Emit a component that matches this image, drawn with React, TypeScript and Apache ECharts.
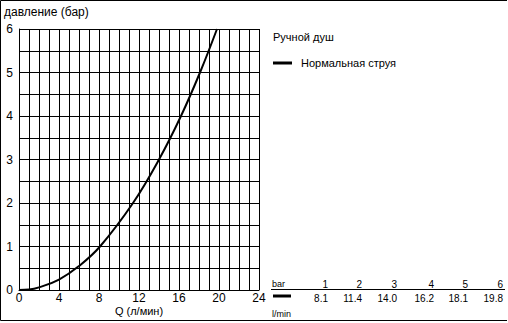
import React, { useEffect, useRef } from "react";
import * as echarts from "echarts";

// Curve: flow Q (l/min) vs pressure (bar)
const curveFlow = [0, 1, 2, 4, 6, 8.1, 11.4, 14.0, 16.2, 18.1, 19.8];
const curvePressure = [0, 0.01, 0.06, 0.24, 0.55, 1, 2, 3, 4, 5, 6];

// Table below legend
const tablePressure = ["1", "2", "3", "4", "5", "6"];
const tableFlow = ["8.1", "11.4", "14.0", "16.2", "18.1", "19.8"];

const xTickLabels = [0, 4, 8, 12, 16, 20, 24];
const yTickLabels = [0, 1, 2, 3, 4, 5, 6];

const title = "давление (бар)";
const xName = "Q (л/мин)";
const legendTitle = "Ручной душ";
const seriesName = "Нормальная струя";

const FONT = "'Liberation Sans', Arial, sans-serif";

export default function App() {
  const ref = useRef<HTMLDivElement>(null);
  useEffect(() => {
    document.body.style.margin = "0";
    const chart = echarts.init(ref.current!, null, { renderer: "svg" });
    const colX = [328, 362, 397, 434, 468, 503];
    const tableGraphics: any[] = [];
    tablePressure.forEach((t, i) => {
      tableGraphics.push({
        type: "text",
        x: colX[i],
        y: 284,
        style: { text: t, font: `10px ${FONT}`, fill: "#000", align: "right", verticalAlign: "middle" },
      });
    });
    tableFlow.forEach((t, i) => {
      tableGraphics.push({
        type: "text",
        x: colX[i],
        y: 298,
        style: { text: t, font: `10px ${FONT}`, fill: "#000", align: "right", verticalAlign: "middle" },
      });
    });
    chart.setOption({
      animation: false,
      backgroundColor: "#fff",
      grid: { left: 19, top: 29, width: 240, height: 261, containLabel: false },
      xAxis: {
        type: "value",
        min: 0,
        max: 24,
        interval: 1,
        axisLine: { show: true, lineStyle: { color: "#000", width: 1 } },
        axisTick: { show: false },
        splitLine: { show: true, lineStyle: { color: "#000", width: 1 } },
        axisLabel: {
          color: "#000",
          fontFamily: FONT,
          fontSize: 12,
          margin: 2,
          showMaxLabel: true,
          formatter: (v: number) => (xTickLabels.includes(v) ? String(v) : ""),
        },
      },
      yAxis: {
        type: "value",
        min: 0,
        max: 6,
        interval: 0.5,
        axisLine: { show: true, lineStyle: { color: "#000", width: 1 } },
        axisTick: { show: false },
        splitLine: { show: true, lineStyle: { color: "#000", width: 1 } },
        axisLabel: {
          color: "#000",
          fontFamily: FONT,
          fontSize: 12,
          margin: 6,
          formatter: (v: number) => (yTickLabels.includes(v) ? String(v) : ""),
        },
      },
      series: [
        {
          type: "line",
          name: seriesName,
          data: curveFlow.map((q, i) => [q, curvePressure[i]]),
          smooth: 0.4,
          showSymbol: false,
          lineStyle: { color: "#000", width: 2 },
        },
      ],
      graphic: [
        { type: "line", shape: { x1: 0.5, y1: 0.5, x2: 507, y2: 0.5 }, style: { stroke: "#000", lineWidth: 1 } },
        { type: "line", shape: { x1: 0.5, y1: 0.5, x2: 0.5, y2: 320.5 }, style: { stroke: "#000", lineWidth: 1 } },
        { type: "line", shape: { x1: 0.5, y1: 320.5, x2: 507, y2: 320.5 }, style: { stroke: "#000", lineWidth: 1 } },
        {
          type: "text",
          x: 4,
          y: 12,
          style: { text: title, font: `12px ${FONT}`, fill: "#000", verticalAlign: "middle" },
        },
        {
          type: "text",
          x: 139,
          y: 311,
          style: { text: xName, font: `11px ${FONT}`, fill: "#000", align: "center", verticalAlign: "middle" },
        },
        {
          type: "text",
          x: 273,
          y: 37,
          style: { text: legendTitle, font: `11px ${FONT}`, fill: "#000", verticalAlign: "middle" },
        },
        { type: "line", shape: { x1: 273, y1: 63, x2: 292, y2: 63 }, style: { stroke: "#000", lineWidth: 3 } },
        {
          type: "text",
          x: 301,
          y: 63,
          style: { text: seriesName, font: `11px ${FONT}`, fill: "#000", verticalAlign: "middle" },
        },
        {
          type: "text",
          x: 272,
          y: 284,
          style: { text: "bar", font: `9px ${FONT}`, fill: "#000", verticalAlign: "middle" },
        },
        { type: "line", shape: { x1: 271, y1: 289.5, x2: 505, y2: 289.5 }, style: { stroke: "#000", lineWidth: 1 } },
        { type: "line", shape: { x1: 273, y1: 296, x2: 291, y2: 296 }, style: { stroke: "#000", lineWidth: 3 } },
        {
          type: "text",
          x: 272,
          y: 314,
          style: { text: "l/min", font: `9px ${FONT}`, fill: "#000", verticalAlign: "middle" },
        },
        ...tableGraphics,
      ],
    });
    return () => chart.dispose();
  }, []);
  return <div ref={ref} style={{ width: 508, height: 323 }} />;
}
